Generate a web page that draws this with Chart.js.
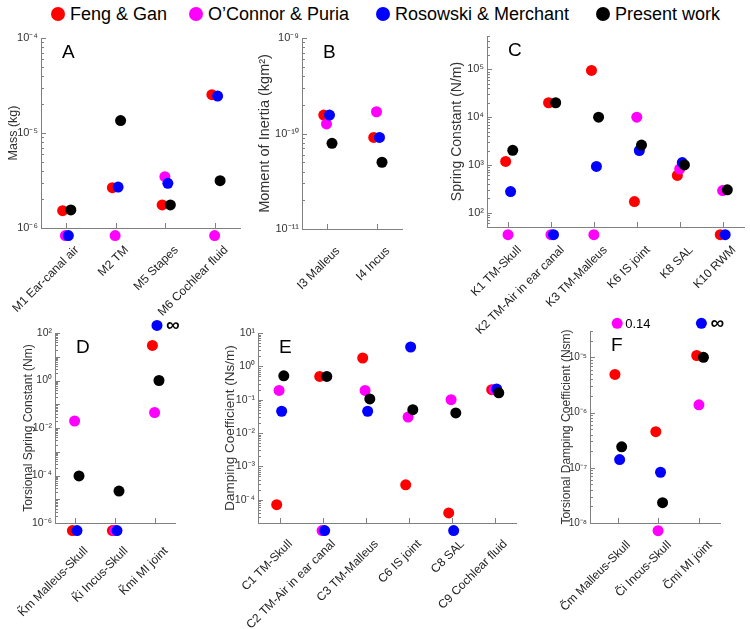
<!DOCTYPE html>
<html>
<head>
<meta charset="utf-8">
<script src="https://cdn.jsdelivr.net/npm/chart.js@4.4.0/dist/chart.umd.min.js"></script>
<style>
  body { margin: 0; background: #fff; width: 750px; height: 629px; position: relative; overflow: hidden; font-family: 'Liberation Sans', Arial, sans-serif; }
  .item { position: absolute; top: 3px; height: 22px; display: flex; align-items: center; font-size: 18px; color: #000; white-space: nowrap; }
  .dot { width: 14px; height: 14px; border-radius: 50%; margin-right: 5px; }
  .panel { position: absolute; }
</style>
</head>
<body>
<div id="legend"></div>
<div id="panels"></div>
<script>
// ---- series ----
const seriesNames = ['Feng & Gan', 'O\u2019Connor & Puria', 'Rosowski & Merchant', 'Present work'];
const seriesColors = ['#ff0000', '#ff00ff', '#0000ff', '#000000'];

// 0 = not given (drawn under the axis), Infinity / too big = drawn over the axis

// A - mass
const catsA = ['M1 Ear-canal air', 'M2 TM', 'M5 Stapes', 'M6 Cochlear fluid'];
const fengA = [1.52e-6, 2.66e-6, 1.75e-6, 2.53e-5];
const oconnorA = [0, 0, 3.47e-6, 0];
const rosowskiA = [0, 2.7e-6, 2.95e-6, 2.45e-5];
const presentA = [1.55e-6, 1.35e-5, 1.75e-6, 3.15e-6];
const yTicksA = [1e-6, 1e-5, 1e-4];
const yLabelsA = ['10\u207B\u2076', '10\u207B\u2075', '10\u207B\u2074'];

// B - moment of inertia
const catsB = ['I3 Malleus', 'I4 Incus'];
const fengB = [1.56e-10, 9.1e-11];
const oconnorB = [1.26e-10, 1.69e-10];
const rosowskiB = [1.56e-10, 9.1e-11];
const presentB = [7.9e-11, 5.0e-11];
const yTicksB = [1e-11, 1e-10, 1e-9];
const yLabelsB = ['10\u207B\u00B9\u00B9', '10\u207B\u00B9\u2070', '10\u207B\u2079'];

// C - spring constant
const catsC = ['K1 TM-Skull', 'K2 TM-Air in ear canal', 'K3 TM-Malleus', 'K6 IS joint', 'K8 SAL', 'K10 RWM'];
const fengC = [1180, 2.0e4, 9.5e4, 170, 600, 0];
const oconnorC = [0, 0, 0, 1.0e4, 820, 290];
const rosowskiC = [276, 0, 930, 2.0e3, 1120, 0];
const presentC = [2020, 2.0e4, 1.0e4, 2.6e3, 1.0e3, 300];
const yTicksC = [1e2, 1e3, 1e4, 1e5];
const yLabelsC = ['10\u00B2', '10\u00B3', '10\u2074', '10\u2075'];

// D - torsional spring constant
const catsD = ['K\u0303m Malleus-Skull', 'K\u0303i Incus-Skull', 'K\u0303mi MI joint'];
const fengD = [0, 0, 30];
const oconnorD = [0.0197, 0, 0.045];
const rosowskiD = [0, 0, Infinity];
const presentD = [9.6e-5, 2.2e-5, 1.0];
const yTicksD = [1e-6, 1e-4, 1e-2, 1, 1e2];
const yLabelsD = ['10\u207B\u2076', '10\u207B\u2074', '10\u207B\u00B2', '10\u2070', '10\u00B2'];

// E - damping coefficient
const catsE = ['C1 TM-Skull', 'C2 TM-Air in ear canal', 'C3 TM-Malleus', 'C6 IS joint', 'C8 SAL', 'C9 Cochlear fluid'];
const fengE = [7.1e-5, 0.5, 1.78, 2.8e-4, 4e-5, 0.2];
const oconnorE = [0.19, 0, 0.19, 0.03, 0.1, 0.2];
const rosowskiE = [0.045, 0, 0.045, 3.8, 0, 0.21];
const presentE = [0.52, 0.5, 0.105, 0.05, 0.04, 0.16];
const yTicksE = [1e-4, 1e-3, 1e-2, 1e-1, 1, 10];
const yLabelsE = ['10\u207B\u2074', '10\u207B\u00B3', '10\u207B\u00B2', '10\u207B\u00B9', '10\u2070', '10\u00B9'];

// F - torsional damping coefficient
const catsF = ['C\u0303m Malleus-Skull', 'C\u0303i Incus-Skull', 'C\u0303mi MI joint'];
const fengF = [4.9e-6, 4.5e-7, 1.08e-5];
const oconnorF = [0.14, 0, 1.38e-6];
const rosowskiF = [1.41e-7, 8.3e-8, Infinity];
const presentF = [2.4e-7, 2.33e-8, 1.0e-5];
const yTicksF = [1e-8, 1e-7, 1e-6, 1e-5];
const yLabelsF = ['10\u207B\u2078', '10\u207B\u2077', '10\u207B\u2076', '10\u207B\u2075'];

// small sideways shift per series (in category units) so dots don't sit on each other
const xShift = [-0.065, -0.01, 0.05, 0.1];
const OUT = 0.04; // how far outside the axis the off-scale dots go (share of axis span)

const FONT = 'Liberation Sans';
Chart.defaults.font.family = FONT;

// ---- panel layout (page pixels) ----
const panels = [
  { letter: 'A', cats: catsA, series: [fengA, oconnorA, rosowskiA, presentA], min: 1e-6, max: 1e-4,
    yTicks: yTicksA, yLabels: yLabelsA, title: 'Mass (kg)', titleSize: 12.5, titleX: 14,
    box: [0, 28, 250, 300], area: [41, 38, 240, 228], tickSize: 11, labelPad: 15 },
  { letter: 'B', cats: catsB, series: [fengB, oconnorB, rosowskiB, presentB], min: 1e-11, max: 1e-9,
    yTicks: yTicksB, yLabels: yLabelsB, title: 'Moment of Inertia (kgm\u00B2)', titleSize: 14.5, titleX: 15,
    box: [250, 28, 160, 300], area: [302, 38, 402, 229], tickSize: 11, labelPad: 15 },
  { letter: 'C', cats: catsC, series: [fengC, oconnorC, rosowskiC, presentC], min: 50, max: 5e5,
    yTicks: yTicksC, yLabels: yLabelsC, title: 'Spring Constant (N/m)', titleSize: 14, titleX: 46.7,
    box: [410, 28, 340, 312], area: [487, 36, 745, 227], tickSize: 11, labelPad: 16 },
  { letter: 'D', cats: catsD, series: [fengD, oconnorD, rosowskiD, presentD], min: 1e-6, max: 1e2,
    yTicks: yTicksD, yLabels: yLabelsD, title: 'Torsional Spring Constant (Nm)', titleSize: 12, titleX: 29,
    box: [0, 310, 200, 319], area: [55, 333, 175, 523], tickSize: 10.5, labelPad: 21 },
  { letter: 'E', cats: catsE, series: [fengE, oconnorE, rosowskiE, presentE], min: 2e-5, max: 10,
    yTicks: yTicksE, yLabels: yLabelsE, title: 'Damping Coefficient (Ns/m)', titleSize: 13.5, titleX: 30.7,
    box: [200, 310, 340, 319], area: [258, 333, 516, 523], tickSize: 10.5, labelPad: 14 },
  { letter: 'F', cats: catsF, series: [fengF, oconnorF, rosowskiF, presentF], min: 1e-8, max: 3e-5,
    yTicks: yTicksF, yLabels: yLabelsF, title: 'Torsional Damping Coefficient (Nsm)', titleSize: 12, titleX: 27,
    box: [540, 310, 210, 319], area: [590, 331, 720, 523], tickSize: 10, labelPad: 15,
    xRange: [-0.675, 2.505] }
];

// ---- legend ----
const legendLeft = [51, 189, 376, 596];
const legend = document.getElementById('legend');
seriesNames.forEach((name, k) => {
  const it = document.createElement('div');
  it.className = 'item';
  it.style.left = legendLeft[k] + 'px';
  it.innerHTML = '<span class="dot" style="background:' + seriesColors[k] + '"></span><span></span>';
  it.lastChild.textContent = name;
  legend.appendChild(it);
});

// ---- helpers ----
function logTicks(min, max) {
  const out = [];
  for (let e = Math.floor(Math.log10(min)); e <= Math.ceil(Math.log10(max)); e++) {
    for (let m = 1; m < 10; m++) {
      const v = m * Math.pow(10, e);
      if (v >= min * 0.999 && v <= max * 1.001) out.push(v);
    }
  }
  return out;
}

function isDecade(v) {
  const l = Math.log10(v);
  return Math.abs(l - Math.round(l)) < 1e-6;
}

function shown(v, p) {
  const lo = Math.log10(p.min), hi = Math.log10(p.max), span = hi - lo;
  if (v <= 0) return Math.pow(10, lo - OUT * span);
  if (v > p.max) return Math.pow(10, hi + OUT * span);
  return v;
}

// inward tick marks like the original figure
const inTicks = {
  id: 'inTicks',
  beforeDatasetsDraw(chart) {
    const { ctx, chartArea: a, scales: { x, y } } = chart;
    ctx.save();
    ctx.strokeStyle = '#808080';
    ctx.lineWidth = 1;
    ctx.beginPath();
    y.ticks.forEach(t => {
      const py = Math.round(y.getPixelForValue(t.value)) + 0.5;
      const len = isDecade(t.value) ? 5 : 3;
      ctx.moveTo(a.left, py);
      ctx.lineTo(a.left + len, py);
    });
    x.ticks.forEach(t => {
      const px = Math.round(x.getPixelForValue(t.value)) + 0.5;
      ctx.moveTo(px, a.bottom);
      ctx.lineTo(px, a.bottom - 5);
    });
    ctx.stroke();
    ctx.restore();
  }
};

// chart.js skips points outside the chart area, these sit just past the axis on purpose
const outsidePoints = {
  id: 'outsidePoints',
  afterDatasetDraw(chart, args) {
    const a = chart.chartArea;
    args.meta.data.forEach(pt => {
      if (pt.y > a.bottom || pt.y < a.top) pt.draw(chart.ctx);
    });
  }
};

// "∞" / "0.14" next to the dots that are off the top of the axis
const offscaleText = {
  id: 'offscaleText',
  afterDatasetsDraw(chart) {
    const ctx = chart.ctx;
    const max = chart.scales.y.max;
    chart.data.datasets.forEach((ds, i) => {
      const meta = chart.getDatasetMeta(i);
      ds.raw.forEach((v, j) => {
        if (v > max) {
          const pt = meta.data[j];
          const inf = v === Infinity;
          ctx.save();
          ctx.font = inf ? 'bold 19px ' + FONT : '13px ' + FONT;
          ctx.fillStyle = '#000';
          ctx.textBaseline = 'middle';
          ctx.fillText(inf ? '\u221E' : String(v), pt.x + (inf ? 9 : 8), pt.y + (inf ? 0 : 1));
          ctx.restore();
        }
      });
    });
  }
};

const panelLetter = {
  id: 'panelLetter',
  afterDraw(chart, args, opts) {
    const { ctx, chartArea: a } = chart;
    ctx.save();
    ctx.font = '19px ' + FONT;
    ctx.fillStyle = '#000';
    ctx.textBaseline = 'alphabetic';
    ctx.fillText(opts.text, a.left + 21, a.top + 20);
    ctx.restore();
  }
};

// ---- build the six charts ----
const holder = document.getElementById('panels');
panels.forEach(p => {
  const [bx, by, bw, bh] = p.box;
  const [l, t, r, b] = p.area;
  const div = document.createElement('div');
  div.className = 'panel';
  div.style.left = bx + 'px';
  div.style.top = by + 'px';
  const cv = document.createElement('canvas');
  cv.width = bw;
  cv.height = bh;
  div.appendChild(cv);
  holder.appendChild(div);

  const yW = l - bx;
  const xH = by + bh - b;
  const xr = p.xRange || [-0.5, p.cats.length - 0.5];
  const lh = p.titleSize * 1.2;

  const datasets = p.series.map((arr, k) => ({
    label: seriesNames[k],
    data: arr.map((v, i) => ({ x: i + xShift[k], y: shown(v, p) })),
    raw: arr,
    backgroundColor: seriesColors[k],
    pointBackgroundColor: seriesColors[k],
    pointRadius: 5.5,
    pointHoverRadius: 5.5,
    pointBorderWidth: 0,
    order: 3 - k,
    clip: false
  }));

  new Chart(cv, {
    type: 'scatter',
    data: { datasets },
    options: {
      responsive: false,
      animation: false,
      devicePixelRatio: 1,
      layout: { padding: { top: t - by, right: bx + bw - r, left: 0, bottom: 0 } },
      plugins: {
        legend: { display: false },
        tooltip: { enabled: false },
        panelLetter: { text: p.letter }
      },
      scales: {
        x: {
          type: 'linear',
          min: xr[0],
          max: xr[1],
          afterBuildTicks: s => { s.ticks = p.cats.map((c, i) => ({ value: i })); },
          ticks: {
            callback: v => p.cats[v],
            autoSkip: false,
            minRotation: 45,
            maxRotation: 45,
            font: { size: 12 },
            color: '#222',
            padding: p.labelPad,
            labelOffset: 11
          },
          grid: { display: true, drawOnChartArea: false, drawTicks: false },
          border: { display: true, color: '#808080', width: 1 },
          afterFit: s => { s.height = xH; s.paddingLeft = 0; s.paddingRight = 0; }
        },
        y: {
          type: 'logarithmic',
          min: p.min,
          max: p.max,
          afterBuildTicks: s => { s.ticks = logTicks(p.min, p.max).map(v => ({ value: v })); },
          ticks: {
            callback: v => {
              const k = p.yTicks.findIndex(tv => Math.abs(Math.log10(tv) - Math.log10(v)) < 1e-6);
              return k >= 0 ? p.yLabels[k] : '';
            },
            autoSkip: false,
            maxRotation: 0,
            font: { size: p.tickSize },
            color: '#333',
            padding: 3
          },
          grid: { display: true, drawOnChartArea: false, drawTicks: false },
          border: { display: true, color: '#808080', width: 1 },
          title: {
            display: true,
            text: p.title,
            color: '#333',
            font: { size: p.titleSize },
            padding: { top: p.titleX - lh / 2, bottom: 0 }
          },
          afterFit: s => { s.width = yW; s.paddingTop = 0; s.paddingBottom = 0; }
        }
      }
    },
    plugins: [inTicks, outsidePoints, offscaleText, panelLetter]
  });
});
</script>
</body>
</html>
